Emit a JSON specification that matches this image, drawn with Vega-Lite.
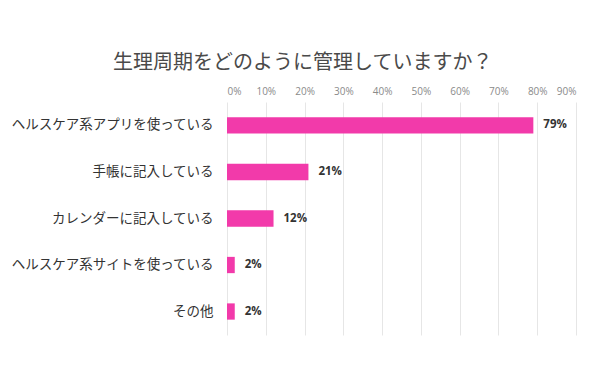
{
  "$schema": "https://vega.github.io/schema/vega-lite/v6.json",
  "autosize": "none",
  "width": 349,
  "height": 233,
  "padding": {"left": 227, "top": 102, "right": 24, "bottom": 35},
  "background": "#ffffff",
  "title": {
    "text": "生理周期をどのように管理していますか？",
    "font": "Noto Sans CJK JP",
    "fontSize": 20,
    "fontWeight": "normal",
    "color": "#4a4a4a",
    "anchor": "start",
    "frame": "group",
    "dx": -114,
    "offset": 13
  },
  "data": {
    "values": [
      {"item": "ヘルスケア系アプリを使っている", "pct": 0.79},
      {"item": "手帳に記入している", "pct": 0.21},
      {"item": "カレンダーに記入している", "pct": 0.12},
      {"item": "ヘルスケア系サイトを使っている", "pct": 0.02},
      {"item": "その他", "pct": 0.02}
    ]
  },
  "encoding": {
    "y": {
      "field": "item",
      "type": "nominal",
      "sort": null,
      "scale": {"paddingInner": 0.65, "paddingOuter": 0.33},
      "axis": {
        "title": null,
        "ticks": false,
        "domain": false,
        "labelFont": "Noto Sans CJK JP",
        "labelFontSize": 13.5,
        "labelColor": "#333333",
        "labelPadding": 14,
        "labelLimit": 250
      }
    },
    "x": {
      "field": "pct",
      "type": "quantitative",
      "scale": {"domain": [0, 0.9], "nice": false},
      "axis": {
        "orient": "top",
        "title": null,
        "values": [0, 0.1, 0.2, 0.3, 0.4, 0.5, 0.6, 0.7, 0.8, 0.9],
        "format": ".0%",
        "ticks": false,
        "domain": false,
        "grid": true,
        "gridColor": "#e6e6e6",
        "gridWidth": 1,
        "labelFont": "Open Sans",
        "labelFontSize": 10,
        "labelColor": "#8a8a8a",
        "labelPadding": 6
      }
    }
  },
  "layer": [
    {"mark": {"type": "bar", "color": "#f23aaa"}},
    {
      "mark": {
        "type": "text",
        "align": "left",
        "dx": 10,
        "font": "Open Sans",
        "fontSize": 11.5,
        "fontWeight": "bold",
        "color": "#333333"
      },
      "encoding": {"text": {"field": "pct", "type": "quantitative", "format": ".0%"}}
    }
  ],
  "config": {"view": {"stroke": null}}
}
